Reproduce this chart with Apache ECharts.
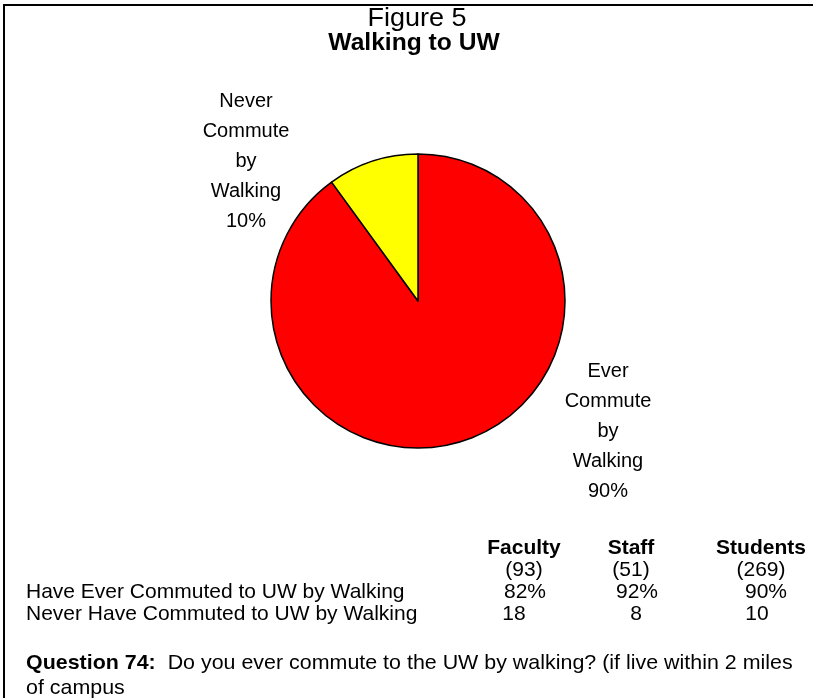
<!DOCTYPE html>
<html>
<head>
<meta charset="utf-8">
<script src="https://cdn.jsdelivr.net/npm/echarts@6/dist/echarts.min.js"></script>
<style>
  html, body { margin: 0; padding: 0; background: #fff; }
  #chart { width: 813px; height: 698px; }
</style>
</head>
<body>
<div id="chart"></div>
<script>
// pie data
const sliceNames = ['Ever\nCommute\nby\nWalking', 'Never\nCommute\nby\nWalking'];
const sliceValues = [90, 10];
const sliceColors = ['#ff0000', '#ffff00'];

// table data
const groups = ['Faculty', 'Staff', 'Students'];
const groupCounts = [93, 51, 269];
const rowLabels = ['Have Ever Commuted to UW by Walking', 'Never Have Commuted to UW by Walking'];
const everValues = ['82%', '92%', '90%'];
const neverValues = ['18', '8', '10'];

const font = 'Liberation Sans, Arial, sans-serif';
const headX = [524, 631, 761];
const everX = [525, 637, 766];
const neverX = [514, 636, 757];
const rowY = [548, 570, 592, 614];
const labelPos = [[608, 431], [246, 161]];

const graphics = [
    {
        type: 'rect', z: -1,
        shape: {x: 4, y: 5, width: 900, height: 900},
        style: {fill: 'none', stroke: '#000', lineWidth: 2}
    }
];

function addText(text, x, y, align, weight, size, sx, extra) {
    const style = {
        text: text, x: 0, y: 0,
        textAlign: align, textVerticalAlign: 'middle',
        font: weight + ' ' + size + 'px ' + font,
        fill: '#000'
    };
    Object.assign(style, extra || {});
    graphics.push({type: 'text', x: x, y: y, scaleX: sx, style: style});
}

// titles
addText('Figure 5', 417, 19, 'center', 'normal', 25, 1.08);
addText('Walking to UW', 414, 44, 'center', 'bold', 23, 1.07);

groups.forEach(function (g, i) {
    addText(g, headX[i], rowY[0], 'center', 'bold', 21, 1);
    addText('(' + groupCounts[i] + ')', headX[i], rowY[1], 'center', 'normal', 21, 1);
    addText(everValues[i], everX[i], rowY[2], 'center', 'normal', 21, 1);
    addText(neverValues[i], neverX[i], rowY[3], 'center', 'normal', 21, 1);
});
addText(rowLabels[0], 26, rowY[2], 'left', 'normal', 21, 1);
addText(rowLabels[1], 26, rowY[3], 'left', 'normal', 21, 1);
addText('{b|Question 74:}  Do you ever commute to the UW by walking? (if live within 2 miles\nof campus',
    26, 651, 'left', 'normal', 21, 1.02,
    {textVerticalAlign: 'top', lineHeight: 25, rich: {b: {fontWeight: 'bold', fontSize: 21, fontFamily: font}}});

const chart = echarts.init(document.getElementById('chart'));
chart.setOption({
    animation: false,
    backgroundColor: '#fff',
    graphic: graphics,
    series: [{
        type: 'pie',
        center: [418, 301],
        radius: 147,
        startAngle: 90,
        clockwise: true,
        silent: true,
        itemStyle: {borderColor: '#000', borderWidth: 1.5},
        label: {
            show: true,
            formatter: '{b}\n{d}%',
            fontFamily: font, fontSize: 20, lineHeight: 30,
            color: '#000', align: 'center'
        },
        labelLine: {show: false},
        labelLayout: function (params) {
            const p = labelPos[params.dataIndex];
            return {x: p[0], y: p[1], align: 'center', verticalAlign: 'middle'};
        },
        data: sliceValues.map(function (v, i) {
            return {value: v, name: sliceNames[i], itemStyle: {color: sliceColors[i]}};
        })
    }]
});
</script>
</body>
</html>
